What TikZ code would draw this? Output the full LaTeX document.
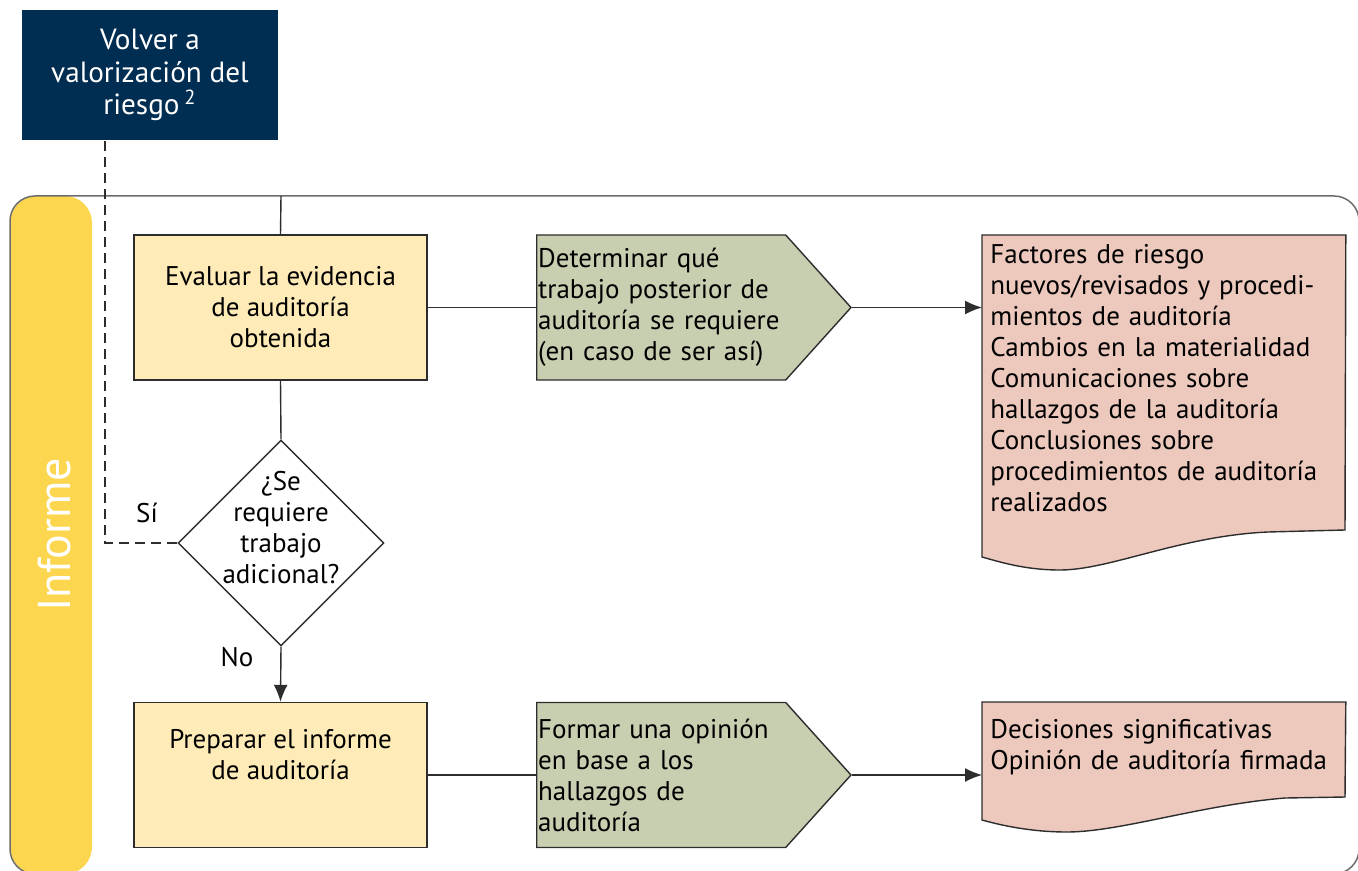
\documentclass[tikz,border=0pt]{standalone}
\usepackage{fontspec}
\setmainfont{PT Sans}
\usetikzlibrary{shapes.geometric,shapes.symbols,arrows.meta,backgrounds}
\definecolor{navy}{RGB}{0,45,82}
\definecolor{gold}{RGB}{253,214,79}
\definecolor{cream}{RGB}{254,235,183}
\definecolor{sage}{RGB}{200,206,176}
\definecolor{rose}{RGB}{236,200,189}
\definecolor{ink}{RGB}{45,45,45}
\newcommand{\boxfont}{\fontsize{13.5}{15.5}\selectfont}
\begin{document}
\begin{tikzpicture}[x=0.5pt,y=-0.5pt,
  line/.style={draw=ink, line width=0.7pt},
  arr/.style={line, -{Latex[length=8.5pt,width=7pt]}},
  task/.style={rectangle, draw=ink, line width=0.7pt, fill=cream, minimum width=146.5pt, minimum height=72.5pt, inner sep=0pt, align=center, font=\boxfont},
  work/.style={signal, signal to=east, signal pointer angle=96, draw=ink, line width=0.7pt, fill=sage, text width=123pt, inner xsep=0.75pt, minimum height=72.5pt, align=left, font=\boxfont},
  doc/.style={anchor=north west, text width=173.5pt, inner xsep=4pt, inner ysep=4.5pt, align=left, font=\boxfont},
  decision/.style={diamond, aspect=1, draw=ink, line width=0.7pt, fill=white, minimum size=103pt, inner sep=0pt},
  tag/.style={font=\boxfont, inner sep=0pt}]
\useasboundingbox (0,0) rectangle (1358,871);
% swimlane
\fill[gold, rounded corners=13.5pt] (10,196) rectangle (92,874);
\draw[gray!85!black, line width=0.75pt, rounded corners=12.5pt] (10,196) rectangle (1359,874);
\node[rotate=90, text=white, font=\fontsize{23}{27}\selectfont] (lane) at (55,535) {Informe};
% return box
\node[rectangle, fill=navy, text=white, minimum width=128pt, minimum height=65pt, align=center, font=\fontsize{14.6}{16.2}\selectfont] (volver) at (150,75) {Volver a\\valorización del\\riesgo\,\textsuperscript{2}};
\coordinate (ret) at (105,140);
\coordinate (entry) at (281,196);
% first row
\node[task] (eval) at (280.5,307.5) {Evaluar la evidencia\\de auditoría\\obtenida};
\node[work, anchor=west] (det) at (536,307.5) {Determinar qué\\trabajo posterior de\\auditoría se requiere\\(en caso de ser así)};
\node[doc] (fact) at (982,235) {Factores de riesgo\\nuevos/revisados y procedi-\\mientos de auditoría\\Cambios en la materialidad\\Comunicaciones sobre\\hallazgos de la auditoría\\Conclusiones sobre\\procedimientos de auditoría\\realizados};
\begin{scope}[on background layer]
\draw[draw=ink, line width=0.7pt, fill=rose] (fact.north west) -- (fact.north east) -- (1345,530) -- (1268,532) .. controls (1180,536) and (1110,570) .. (1060,570) .. controls (1025,570) and (1000,562) .. (982,557) -- cycle;
\end{scope}
% decision
\node[decision] (dec) at (281,543) {};
\node[tag, align=center] (dectxt) at (281,528) {¿Se\\requiere\\trabajo\\adicional?};
\node[tag] (si) at (147,513) {Sí};
\node[tag] (no) at (237,657) {No};
% second row
\node[task] (prep) at (280.5,775) {Preparar el informe\\de auditoría\\\strut};
\node[work, anchor=west] (form) at (536,775) {Formar una opinión\\en base a los\\hallazgos de\\auditoría};
\node[doc, inner ysep=8.5pt] (sign) at (982,702) {Decisiones significativas\\Opinión de auditoría firmada};
\begin{scope}[on background layer]
\draw[draw=ink, line width=0.7pt, fill=rose] (sign.north west) -- (sign.north east) -- (1345,797) -- (1285,798) .. controls (1200,805) and (1120,832) .. (1067,832) .. controls (1030,832) and (1000,825) .. (982,820) -- cycle;
\end{scope}
% connectors
\draw[line] (entry) -- (eval.north);
\draw[line] (eval.east) -- (det.west);
\draw[arr] (det.east) -- (det.east -| fact.west);
\draw[line] (eval.south) -- (dec.north);
\draw[line, dashed, dash pattern=on 5pt off 3pt] (dec.west) -| (ret);
\draw[arr] (dec.south) -- (prep.north);
\draw[line] (prep.east) -- (form.west);
\draw[arr] (form.east) -- (form.east -| sign.west);
\end{tikzpicture}
\end{document}
